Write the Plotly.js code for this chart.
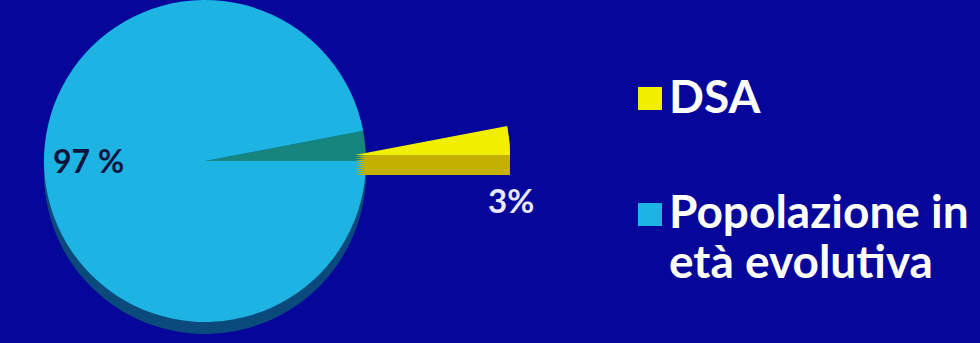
<!DOCTYPE html>
<html>
<head>
<meta charset="utf-8">
<script src="https://cdn.plot.ly/plotly-3.0.1.min.js"></script>
<style>
html,body{margin:0;padding:0;background:#06069a;overflow:hidden;}
#chart{width:980px;height:343px;}
</style>
</head>
<body>
<div id="chart"></div>
<script>
// ---- data ----
const labels = ["DSA", "Popolazione in età evolutiva"];
const values = [3, 97];
const legendLines = [["DSA"], ["Popolazione in", "età evolutiva"]];
const sliceColors = ["#f2ee00", "#1db4e4"];

// ---- styling helpers ----
const W = 980, H = 343;
const px = x => x / W;
const py = y => 1 - y / H;
const bg = "#06069a";
const transparent = "rgba(0,0,0,0)";
const total = values.reduce((a, b) => a + b, 0);
// DSA slice sits just above 3 o'clock, ending on the horizontal
const rot = 90 - 360 * values[0] / total;

function pieTrace(domainX, domainY, colors) {
  return {
    type: "pie",
    labels: labels,
    values: values,
    sort: false,
    direction: "clockwise",
    rotation: rot,
    domain: {x: domainX, y: domainY},
    marker: {colors: colors, line: {width: 0}},
    textinfo: "none",
    hoverinfo: "label+percent",
    showlegend: false
  };
}

// main pie: centre (205,161), radius 161
const mainX = [px(44), px(366)];
const mainTop = 0, mainSize = 322;
// exploded DSA slice: vertex (355,155), radius 155
const dsaX = [px(200), px(510)];
const dsaTop = 0, dsaSize = 310;

const data = [];
// 3D depth of the main pie (stacked copies shifted down)
for (let d = 12; d >= 2; d -= 2) {
  data.push(pieTrace(mainX, [py(mainTop + mainSize + d), py(mainTop + d)], ["#0b4a7c", "#0b4a7c"]));
}
data.push(pieTrace(mainX, [py(mainTop + mainSize), py(mainTop)], ["#16857e", sliceColors[1]]));
// 3D depth of the exploded DSA slice
for (let d = 20; d >= 2; d -= 2) {
  data.push(pieTrace(dsaX, [py(dsaTop + dsaSize + d), py(dsaTop + d)], ["#c4b000", transparent]));
}
data.push(pieTrace(dsaX, [py(dsaTop + dsaSize), py(dsaTop)], [sliceColors[0], transparent]));

const fontFam = "Lato, 'Open Sans', sans-serif";
const annotations = [
  {x: px(88), y: py(160), xref: "paper", yref: "paper", xanchor: "center", yanchor: "middle", showarrow: false,
   text: values[1] + " %", font: {family: fontFam, size: 32, color: "#0c1440", weight: 700}},
  {x: px(511), y: py(200), xref: "paper", yref: "paper", xanchor: "center", yanchor: "middle", showarrow: false,
   text: values[0] + "%", font: {family: fontFam, size: 33, color: "#e8e8ff", weight: 700}}
];
const shapes = [];
const legendTop = [95, 210];
const squareTop = [87, 203];
legendLines.forEach((lines, i) => {
  shapes.push({type: "rect", xref: "paper", yref: "paper",
    x0: px(638), x1: px(662), y0: py(squareTop[i] + 23), y1: py(squareTop[i]),
    fillcolor: sliceColors[i], line: {width: 0}});
  lines.forEach((t, j) => {
    annotations.push({x: px(667), y: py(legendTop[i] + j * 50), xref: "paper", yref: "paper",
      xanchor: "left", yanchor: "middle", showarrow: false, text: t,
      font: {family: fontFam, size: 46, color: "#ffffff", weight: 700}});
  });
});

const layout = {
  width: W, height: H,
  margin: {l: 0, r: 0, t: 0, b: 0},
  paper_bgcolor: bg, plot_bgcolor: bg,
  showlegend: false,
  annotations: annotations,
  shapes: shapes
};

Plotly.newPlot("chart", data, layout, {displayModeBar: false, staticPlot: true});
</script>
</body>
</html>
